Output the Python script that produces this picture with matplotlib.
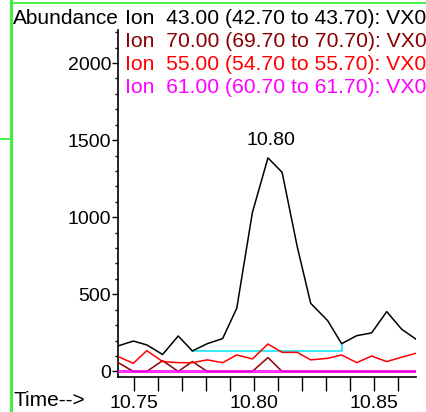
import numpy as np
import matplotlib.pyplot as plt
from matplotlib.ticker import MultipleLocator
from matplotlib.lines import Line2D

plt.rcParams['font.family'] = ['Liberation Sans', 'DejaVu Sans']

# scan times (min)
times = [10.7434, 10.7497, 10.7553, 10.7619, 10.7684, 10.7743, 10.7805,
         10.7869, 10.7928, 10.7993, 10.8058, 10.8117, 10.8180, 10.8236,
         10.8307, 10.8365, 10.8428, 10.8490, 10.8553, 10.8615, 10.8675]

# extracted ion abundances
ion43 = [166, 197, 172, 110, 230, 133, 180, 213, 410, 1030, 1385, 1291,
         809, 442, 329, 180, 232, 250, 388, 274, 209]
ion70 = [57, 0, 0, 70, 0, 64, 0, 0, 0, 0, 90, 0, 0, 0, 0, 0, 0, 0, 0, 0, 0]
ion55 = [96, 53, 135, 64, 57, 57, 75, 57, 107, 81, 178, 124, 124, 75, 85,
         107, 57, 100, 64, 92, 118]
ion61 = [0] * len(times)

# legend rows as shown (the window cuts them after "VX0")
legend_labels = ["Ion  43.00 (42.70 to 43.70): VX0",
                 "Ion  70.00 (69.70 to 70.70): VX0",
                 "Ion  55.00 (54.70 to 55.70): VX0",
                 "Ion  61.00 (60.70 to 61.70): VX0"]
legend_colors = ["black", "#8b0000", "#ff0000", "#ff00ff"]

peak_time = 10.80
peak_idx = 10
# integration baseline: start / end scan index
base_start, base_end = 5, 15

W, H = 426, 412
fig = plt.figure(figsize=(W / 100, H / 100), dpi=100)

def px(x, y):
    return x / W, 1 - y / H

ax = fig.add_axes([118 / W, 1 - 377 / H, (416 - 118) / W, (377 - 30) / H])
ax.plot(times, ion43, color="black", lw=1.1, zorder=4)
ax.plot(times, ion70, color="#8b0000", lw=1.1, zorder=3)
ax.plot(times, ion55, color="#ff0000", lw=1.1, zorder=3)
ax.plot(times, ion61, color="#ff00ff", lw=2.2, alpha=0.8, zorder=5)

# baseline drawn from the black trace
ax.plot([times[base_start], times[base_end], times[base_end]],
        [ion43[base_start], ion43[base_start], ion43[base_end]],
        color="#00e5ee", lw=1.1, zorder=2)

ax.text(times[peak_idx] + 0.0013, ion43[peak_idx] + 60, f"{peak_time:.2f}",
        ha="center", va="bottom", fontsize=14)

ax.set_xlim(10.7433, 10.8675)
ax.set_ylim(-36, 2214)
ax.xaxis.set_major_locator(MultipleLocator(0.05))
ax.xaxis.set_minor_locator(MultipleLocator(0.01))
ax.yaxis.set_major_locator(MultipleLocator(500))
ax.yaxis.set_minor_locator(MultipleLocator(100))
ax.xaxis.set_major_formatter(plt.FuncFormatter(lambda v, p: f"{v:.2f}"))
ax.tick_params(axis="x", which="both", length=10, width=1, direction="out",
               labelsize=14, pad=3)
ax.tick_params(axis="y", which="major", length=4, width=1, labelsize=14, pad=1)
ax.tick_params(axis="y", which="minor", length=2, width=1)
for s in ["top", "right"]:
    ax.spines[s].set_visible(False)
for s in ["left", "bottom"]:
    ax.spines[s].set_linewidth(1.2)

fig.text(*px(13, 18), "Abundance", fontsize=15, va="center", ha="left")
fig.text(*px(13, 401), "Time-->", fontsize=15, va="center", ha="left")
for i, (lab, col) in enumerate(zip(legend_labels, legend_colors)):
    fig.text(*px(125, 18 + i * 23.3), lab, color=col, fontsize=15.2,
             va="center", ha="left")

# green frame of the report window
green = "#44ee44"
fig.add_artist(Line2D([11 / W, 11 / W], [0.005, 1], color=green, lw=2.2,
                      transform=fig.transFigure))
fig.add_artist(Line2D([11 / W, 1], [1 - 2.5 / H, 1 - 2.5 / H], color=green,
                      lw=1.4, transform=fig.transFigure))
fig.add_artist(Line2D([0, 11 / W], [1 - 139 / H, 1 - 139 / H], color=green,
                      lw=1.4, transform=fig.transFigure))

fig.savefig("out.png", dpi=100)
